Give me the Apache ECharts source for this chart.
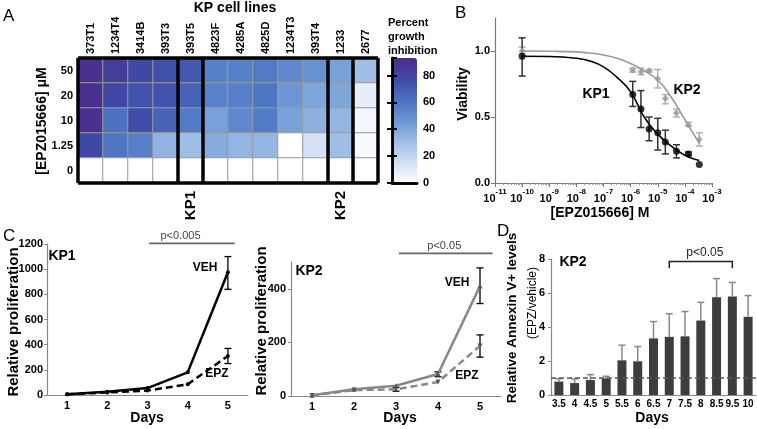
<!DOCTYPE html>
<html><head><meta charset="utf-8">
<script src="https://cdn.jsdelivr.net/npm/echarts@6/dist/echarts.min.js"></script>
<style>html,body{margin:0;padding:0;background:#fff}#c{width:757px;height:429px}</style>
</head><body><div id="c"></div>
<script>
const FONT = '"Liberation Sans", Arial, sans-serif';

// ---- Panel A: heatmap ----
const cellLines = ['373T1','1234T4','3414B','393T3','393T5','4823F','4285A','4825D','1234T3','393T4','1233','2677'];
const groupLabels = ['','','','','KP1','','','','','','KP2',''];
const groupSizes = [4,1,5,1,1];
const doses = ['50','20','10','1.25','0'];
const inhib50  = [90,84,78,75,72,56,56,58,52,48,42,30];
const inhib20  = [90,78,74,74,68,55,56,60,46,40,40,8];
const inhib10  = [90,62,76,68,58,42,52,58,42,36,34,4];
const inhib125 = [78,60,56,35,30,38,34,34,0,14,30,3];
const inhib0   = [0,0,0,0,0,0,0,0,0,0,0,0];
const colorMax = 93;

// ---- Panel B: dose response ----
const doseM   = [1e-10,1.2e-6,2.4e-6,4.8e-6,1e-5,1.9e-5,4.9e-5,1.35e-4,3.4e-4];
const kp1Viab = [0.96,0.67,0.56,0.41,0.38,0.31,0.24,0.22,0.14];
const kp1Lo   = [0.81,0.58,0.42,0.32,0.25,0.22,0.19,0.21,null];
const kp1Hi   = [1.10,0.77,0.70,0.50,0.49,0.40,0.29,0.235,null];
const kp2Viab = [1.0,0.856,0.843,0.85,0.79,0.64,0.53,0.44,0.33];
const kp2Lo   = [0.98,0.84,0.82,0.84,0.72,0.60,0.50,0.43,0.28];
const kp2Hi   = [1.03,0.87,0.87,0.86,0.86,0.67,0.56,0.46,0.38];
const fitX    = [1e-10,1e-9,1e-8,3.16e-8,1e-7,3.16e-7,1e-6,3.16e-6,1e-5,3.16e-5,1e-4,3.4e-4];
const kp1Fit  = [0.96,0.958,0.945,0.925,0.88,0.80,0.69,0.50,0.37,0.28,0.21,0.17];
const kp2Fit  = [1.0,0.998,0.993,0.985,0.97,0.945,0.905,0.85,0.78,0.65,0.48,0.30];

// ---- Panel C: proliferation ----
const days = ['1','2','3','4','5'];
const kp1Veh   = [5,25,55,180,975];
const kp1VehLo = [null,null,null,null,840];
const kp1VehHi = [null,null,null,null,1100];
const kp1Epz   = [5,20,35,85,310];
const kp1EpzLo = [null,null,null,null,250];
const kp1EpzHi = [null,null,null,null,370];
const kp2Veh   = [3,25,38,82,410];
const kp2VehLo = [null,null,null,72,345];
const kp2VehHi = [null,null,null,90,478];
const kp2Epz   = [2,22,25,52,187];
const kp2EpzLo = [null,null,18,null,145];
const kp2EpzHi = [null,null,32,null,228];
const sigC1 = [3.04, 5.17, 1205, 3.82]; // from day, to day, height, label day
const sigC2 = [3.07, 5.30, 532, 4.15];

// ---- Panel D: annexin ----
const annexDays  = ['3.5','4','4.5','5','5.5','6','6.5','7','7.5','8','8.5','9.5','10'];
const annexMean  = [0.79,0.70,0.88,0.98,2.04,1.98,3.33,3.42,3.45,4.38,5.75,5.80,4.60];
const annexUpper = [0.96,0.95,1.20,1.10,2.93,2.85,4.32,4.78,4.91,5.45,6.85,6.62,5.85];
const sigD = {from:'7', to:'9.5', top:7.86, leg:7.45, label:'p<0.05'};
const refLine = 1;

// ---------- helpers ----------
const heatData = [];
[inhib50,inhib20,inhib10,inhib125,inhib0].forEach((row, yi) => row.forEach((v, xi) => heatData.push([xi, yi, v])));
const bounds = [0];
groupSizes.forEach(s => bounds.push(bounds[bounds.length-1] + s));
const borderLines = bounds.map(x => [{coord:[x,0]},{coord:[x,doses.length]}])
  .concat([[{coord:[0,0]},{coord:[cellLines.length,0]}],[{coord:[0,doses.length]},{coord:[cellLines.length,doses.length]}]]);

function errData(xs, lo, hi) {
  const out = [];
  xs.forEach((x, i) => { if (lo[i] != null && hi[i] != null) out.push([x, lo[i], hi[i]]); });
  return out;
}
function errBar(color, capHalf, lw, upperOnly) {
  return function (params, api) {
    const x = api.value(0), lo = api.value(1), hi = api.value(2);
    const a = api.coord([x, lo]), b = api.coord([x, hi]);
    const st = {stroke: color, lineWidth: lw};
    const ch = [
      {type:'line', shape:{x1:a[0],y1:a[1],x2:b[0],y2:b[1]}, style:st},
      {type:'line', shape:{x1:b[0]-capHalf,y1:b[1],x2:b[0]+capHalf,y2:b[1]}, style:st}
    ];
    if (!upperOnly) ch.push({type:'line', shape:{x1:a[0]-capHalf,y1:a[1],x2:a[0]+capHalf,y2:a[1]}, style:st});
    return {type:'group', children: ch};
  };
}
function sigBar(label) {
  return function (params, api) {
    const y = api.value(2);
    const p1 = api.coord([api.value(0), y]), p2 = api.coord([api.value(1), y]), pt = api.coord([api.value(3), y]);
    return {type:'group', children:[
      {type:'line', shape:{x1:p1[0],y1:p1[1],x2:p2[0],y2:p2[1]}, style:{stroke:'#666', lineWidth:1.6}},
      {type:'text', style:{text:label, x:pt[0], y:p1[1]-7, align:'center', verticalAlign:'middle', font:'11px ' + FONT, fill:'#444'}}
    ]};
  };
}
function bracket(label) {
  return function (params, api) {
    const a = api.coord([api.value(0), api.value(2)]);
    const b = api.coord([api.value(1), api.value(2)]);
    const l = api.coord([api.value(0), api.value(3)]);
    return {type:'group', children:[
      {type:'polyline', shape:{points:[[a[0],l[1]],[a[0],a[1]],[b[0],b[1]],[b[0],l[1]]]}, style:{stroke:'#222', lineWidth:1.5, fill:null}},
      {type:'text', style:{text:label, x:(a[0]+b[0])/2+4, y:a[1]-9, align:'center', verticalAlign:'middle', font:'12px ' + FONT, fill:'#222'}}
    ]};
  };
}
function T(text, x, y, size, opts) {
  opts = opts || {};
  return {type:'text', x:x, y:y, rotation: opts.rot ? Math.PI/2 : 0, z:100,
    style:{text:text, font:(opts.normal ? 'normal ' : 'bold ') + size + 'px ' + FONT, fill: opts.color || '#000',
      align: opts.align || 'center', verticalAlign:'middle'}};
}
const lblBold = (size) => ({fontFamily:FONT, fontWeight:'bold', fontSize:size, color:'#000'});
const plain = v => String(v);
const gray = '#888';
const axLine = (c, w) => ({show:true, lineStyle:{color:c || gray, width:w || 1.2}});

const option = {
  animation: false,
  backgroundColor: '#fff',
  textStyle: {fontFamily: FONT},
  grid: [
    {left:78, top:58, width:300, height:125},   // 0 heatmap
    {left:392, top:58, width:25, height:125},   // 1 colorbar axes
    {left:495, top:18, width:217, height:165},  // 2 B
    {left:47, top:244, width:201, height:151},  // 3 C1
    {left:291, top:262, width:210, height:134}, // 4 C2
    {left:551, top:259, width:205, height:136}  // 5 D
  ],
  xAxis: [
    {gridIndex:0, type:'category', data:cellLines, position:'top', axisLine:{show:false}, axisTick:{show:false},
      axisLabel:Object.assign(lblBold(11), {rotate:90, margin:4, interval:0})},
    {gridIndex:0, type:'category', data:groupLabels, position:'bottom', axisLine:{show:false}, axisTick:{show:false},
      axisLabel:Object.assign(lblBold(15), {rotate:90, margin:8, interval:0})},
    {gridIndex:0, type:'value', min:0, max:cellLines.length, show:false},
    {gridIndex:1, type:'value', min:0, max:1, position:'bottom', z:10, axisLine:axLine('#000',2.5), axisTick:{show:false}, axisLabel:{show:false}, splitLine:{show:false}},
    {gridIndex:2, type:'log', logBase:10, min:1e-11, max:1e-3, splitNumber:8, axisLine:axLine('#777',1.2),
      axisTick:{show:true, length:4, lineStyle:{color:'#777'}},
      minorTick:{show:true, splitNumber:9, length:2, lineStyle:{color:'#999'}},
      splitLine:{show:false},
      axisLabel:{margin:5, formatter: v => '{b|10}{s|' + Math.round(Math.log10(v)) + '}',
        rich:{b:{fontFamily:FONT, fontWeight:'bold', fontSize:11, color:'#000', verticalAlign:'bottom', lineHeight:16},
              s:{fontFamily:FONT, fontWeight:'bold', fontSize:8, color:'#000', verticalAlign:'top', lineHeight:16}}}},
    {gridIndex:3, type:'category', data:days, boundaryGap:true, axisLine:axLine(gray,1.2),
      axisTick:{alignWithLabel:true, length:4, lineStyle:{color:gray}}, axisLabel:Object.assign(lblBold(11), {margin:5})},
    {gridIndex:3, type:'value', min:0.5, max:5.5, show:false},
    {gridIndex:4, type:'category', data:days, boundaryGap:true, axisLine:axLine(gray,1.2),
      axisTick:{alignWithLabel:true, length:4, lineStyle:{color:gray}}, axisLabel:Object.assign(lblBold(11), {margin:5})},
    {gridIndex:4, type:'value', min:0.5, max:5.5, show:false},
    {gridIndex:5, type:'category', data:annexDays, boundaryGap:true, axisLine:axLine(gray,1.2),
      axisTick:{alignWithLabel:true, length:3, lineStyle:{color:gray}}, axisLabel:Object.assign(lblBold(10), {margin:4, interval:0})},
    {gridIndex:1, type:'value', min:0, max:1, position:'top', z:10, axisLine:axLine('#000',2.5), axisTick:{show:false}, axisLabel:{show:false}, splitLine:{show:false}}
  ],
  yAxis: [
    {gridIndex:0, type:'category', data:doses, inverse:true, axisLine:{show:false}, axisTick:{show:false},
      axisLabel:Object.assign(lblBold(11), {margin:5})},
    {gridIndex:0, type:'value', min:0, max:doses.length, show:false},
    {gridIndex:1, type:'value', min:0, max:colorMax, interval:20, position:'left', z:10, axisLine:axLine('#000',2.5),
      axisTick:{show:true, inside:true, length:5, lineStyle:{color:'#000', width:2}}, axisLabel:{show:false}, splitLine:{show:false}},
    {gridIndex:1, type:'value', min:0, max:colorMax, interval:20, position:'right', z:10, axisLine:axLine('#000',2.5),
      axisTick:{show:true, inside:true, length:5, lineStyle:{color:'#000', width:2}},
      axisLabel:Object.assign(lblBold(11), {margin:6, showMaxLabel:false, formatter:plain}), splitLine:{show:false}},
    {gridIndex:2, type:'value', min:0, max:1.25, interval:0.5, axisLine:axLine('#777',1.2),
      axisTick:{show:true, length:4, lineStyle:{color:'#777'}}, splitLine:{show:false},
      axisLabel:Object.assign(lblBold(11), {margin:5, showMaxLabel:false, formatter: v => v.toFixed(1)})},
    {gridIndex:3, type:'value', min:0, max:1200, interval:200, axisLine:axLine(gray,1.2),
      axisTick:{show:true, length:3, lineStyle:{color:gray}}, splitLine:{show:false}, axisLabel:Object.assign(lblBold(11), {margin:4, formatter:plain})},
    {gridIndex:4, type:'value', min:0, max:500, interval:200, axisLine:axLine(gray,1.2),
      axisTick:{show:true, length:3, lineStyle:{color:gray}}, splitLine:{show:false}, axisLabel:Object.assign(lblBold(11), {margin:5, showMaxLabel:false, formatter:plain})},
    {gridIndex:5, type:'value', min:0, max:8, interval:2, axisLine:axLine(gray,1.2),
      axisTick:{show:true, length:3, lineStyle:{color:gray}}, splitLine:{show:false}, axisLabel:Object.assign(lblBold(11), {margin:6, formatter:plain})}
  ],
  visualMap: [{type:'continuous', seriesIndex:0, min:0, max:colorMax, left:392, top:58, itemWidth:25, itemHeight:125,
    calculable:false, padding:0, text:null, orient:'vertical',
    inRange:{color:['#ffffff','#d0def3','#9dbde6','#6a95d3','#4a72c0','#3f4aa6','#4d2a8a']}}],
  series: [
    {type:'heatmap', xAxisIndex:0, yAxisIndex:0, data:heatData, silent:true,
      itemStyle:{borderColor:'#9a9a9a', borderWidth:1}},
    {type:'line', xAxisIndex:2, yAxisIndex:1, data:[], z:10, silent:true,
      markLine:{silent:true, symbol:'none', label:{show:false}, lineStyle:{color:'#000', width:3.5, type:'solid'}, data:borderLines}},
    // B
    {type:'line', xAxisIndex:4, yAxisIndex:4, smooth:true, showSymbol:false, data:fitX.map((x,i)=>[x,kp2Fit[i]]),
      lineStyle:{color:'#999', width:1.6}, silent:true},
    {type:'line', xAxisIndex:4, yAxisIndex:4, smooth:true, showSymbol:false, data:fitX.map((x,i)=>[x,kp1Fit[i]]),
      lineStyle:{color:'#000', width:1.6}, silent:true},
    {type:'custom', xAxisIndex:4, yAxisIndex:4, data:errData(doseM,kp2Lo,kp2Hi), encode:{x:0,y:[1,2]},
      renderItem:errBar('#b0b0b0',3.5,1.5,false), silent:true},
    {type:'custom', xAxisIndex:4, yAxisIndex:4, data:errData(doseM,kp1Lo,kp1Hi), encode:{x:0,y:[1,2]},
      renderItem:errBar('#333',3.5,1.5,false), silent:true},
    {type:'scatter', xAxisIndex:4, yAxisIndex:4, symbol:'diamond', symbolSize:7, data:doseM.map((x,i)=>[x,kp2Viab[i]]),
      itemStyle:{color:'#999'}, silent:true},
    {type:'scatter', xAxisIndex:4, yAxisIndex:4, symbol:'circle', symbolSize:7, data:doseM.map((x,i)=>[x,kp1Viab[i]]),
      itemStyle:{color:'#000'}, silent:true},
    // C1
    {type:'line', xAxisIndex:5, yAxisIndex:5, data:kp1Veh, symbol:'circle', symbolSize:4,
      lineStyle:{color:'#000', width:2.5}, itemStyle:{color:'#000'}, silent:true},
    {type:'line', xAxisIndex:5, yAxisIndex:5, data:kp1Epz, symbol:'circle', symbolSize:4,
      lineStyle:{color:'#000', width:2.5, type:[7,4]}, itemStyle:{color:'#000'}, silent:true},
    {type:'custom', xAxisIndex:5, yAxisIndex:5, data:errData(days.map((d,i)=>i),kp1VehLo,kp1VehHi).concat(errData(days.map((d,i)=>i),kp1EpzLo,kp1EpzHi)),
      encode:{x:0,y:[1,2]}, renderItem:errBar('#000',3.5,1.3,false), silent:true},
    {type:'custom', xAxisIndex:6, yAxisIndex:5, data:[sigC1], encode:{x:[0,1,3],y:2}, renderItem:sigBar('p<0.005'), silent:true},
    // C2
    {type:'line', xAxisIndex:7, yAxisIndex:6, data:kp2Veh, symbol:'triangle', symbolSize:5,
      lineStyle:{color:'#888', width:2.5}, itemStyle:{color:'#555'}, silent:true},
    {type:'line', xAxisIndex:7, yAxisIndex:6, data:kp2Epz, symbol:'triangle', symbolRotate:180, symbolSize:5,
      lineStyle:{color:'#888', width:2.5, type:[7,4]}, itemStyle:{color:'#555'}, silent:true},
    {type:'custom', xAxisIndex:7, yAxisIndex:6, data:errData(days.map((d,i)=>i),kp2VehLo,kp2VehHi).concat(errData(days.map((d,i)=>i),kp2EpzLo,kp2EpzHi)),
      encode:{x:0,y:[1,2]}, renderItem:errBar('#000',3.5,1.3,false), silent:true},
    {type:'custom', xAxisIndex:8, yAxisIndex:6, data:[sigC2], encode:{x:[0,1,3],y:2}, renderItem:sigBar('p<0.05'), silent:true},
    // D
    {type:'bar', xAxisIndex:9, yAxisIndex:7, data:annexMean, barWidth:9, itemStyle:{color:'#3d3d3d'}, silent:true,
      markLine:{silent:true, symbol:'none', label:{show:false}, lineStyle:{color:'#555', width:1.6, type:[5,3]}, data:[{yAxis:refLine}]}},
    {type:'custom', xAxisIndex:9, yAxisIndex:7, data:annexDays.map((d,i)=>[i, annexMean[i], annexUpper[i]]),
      encode:{x:0,y:[1,2]}, renderItem:errBar('#888',3.5,1.5,true), silent:true, z:1},
    {type:'custom', xAxisIndex:9, yAxisIndex:7, data:[[annexDays.indexOf(sigD.from), annexDays.indexOf(sigD.to), sigD.top, sigD.leg]],
      encode:{x:[0,1],y:[2,3]}, renderItem:bracket(sigD.label), silent:true}
  ],
  graphic: [
    T('A', 3, 16, 17, {normal:true, align:'left'}),
    T('B', 455, 13, 17, {normal:true, align:'left'}),
    T('C', 3, 236, 17, {normal:true, align:'left'}),
    T('D', 497, 231, 17, {normal:true, align:'left'}),
    T('KP cell lines', 235, 8, 14),
    T('[EPZ015666] μM', 42, 121, 14, {rot:true}),
    T('Percent', 388, 23, 11, {align:'left'}),
    T('growth', 388, 37, 11, {align:'left'}),
    T('inhibition', 388, 51, 11, {align:'left'}),
    T('Viability', 463, 94, 14, {rot:true}),
    T('[EPZ015666] M', 600, 213, 14),
    T('KP1', 596, 94, 14),
    T('KP2', 687, 90, 14),
    T('Relative proliferation', 14, 322, 15, {rot:true}),
    T('KP1', 62, 256, 14),
    T('VEH', 205, 268, 12),
    T('EPZ', 217, 374, 12),
    T('Days', 147, 418, 14),
    T('Relative proliferation', 262, 321, 15, {rot:true}),
    T('KP2', 309, 271, 14),
    T('VEH', 457, 283, 12),
    T('EPZ', 467, 376, 12),
    T('Days', 400, 418, 14),
    T('Relative Annexin V+ levels', 512, 318, 13.5, {rot:true}),
    T('(EPZ/vehicle)', 533, 303, 12, {rot:true, normal:true}),
    T('KP2', 573, 262, 14),
    T('Days', 652, 418, 14)
  ]
};
const chart = echarts.init(document.getElementById('c'), null, {renderer:'canvas'});
chart.setOption(option);
</script></body></html>
